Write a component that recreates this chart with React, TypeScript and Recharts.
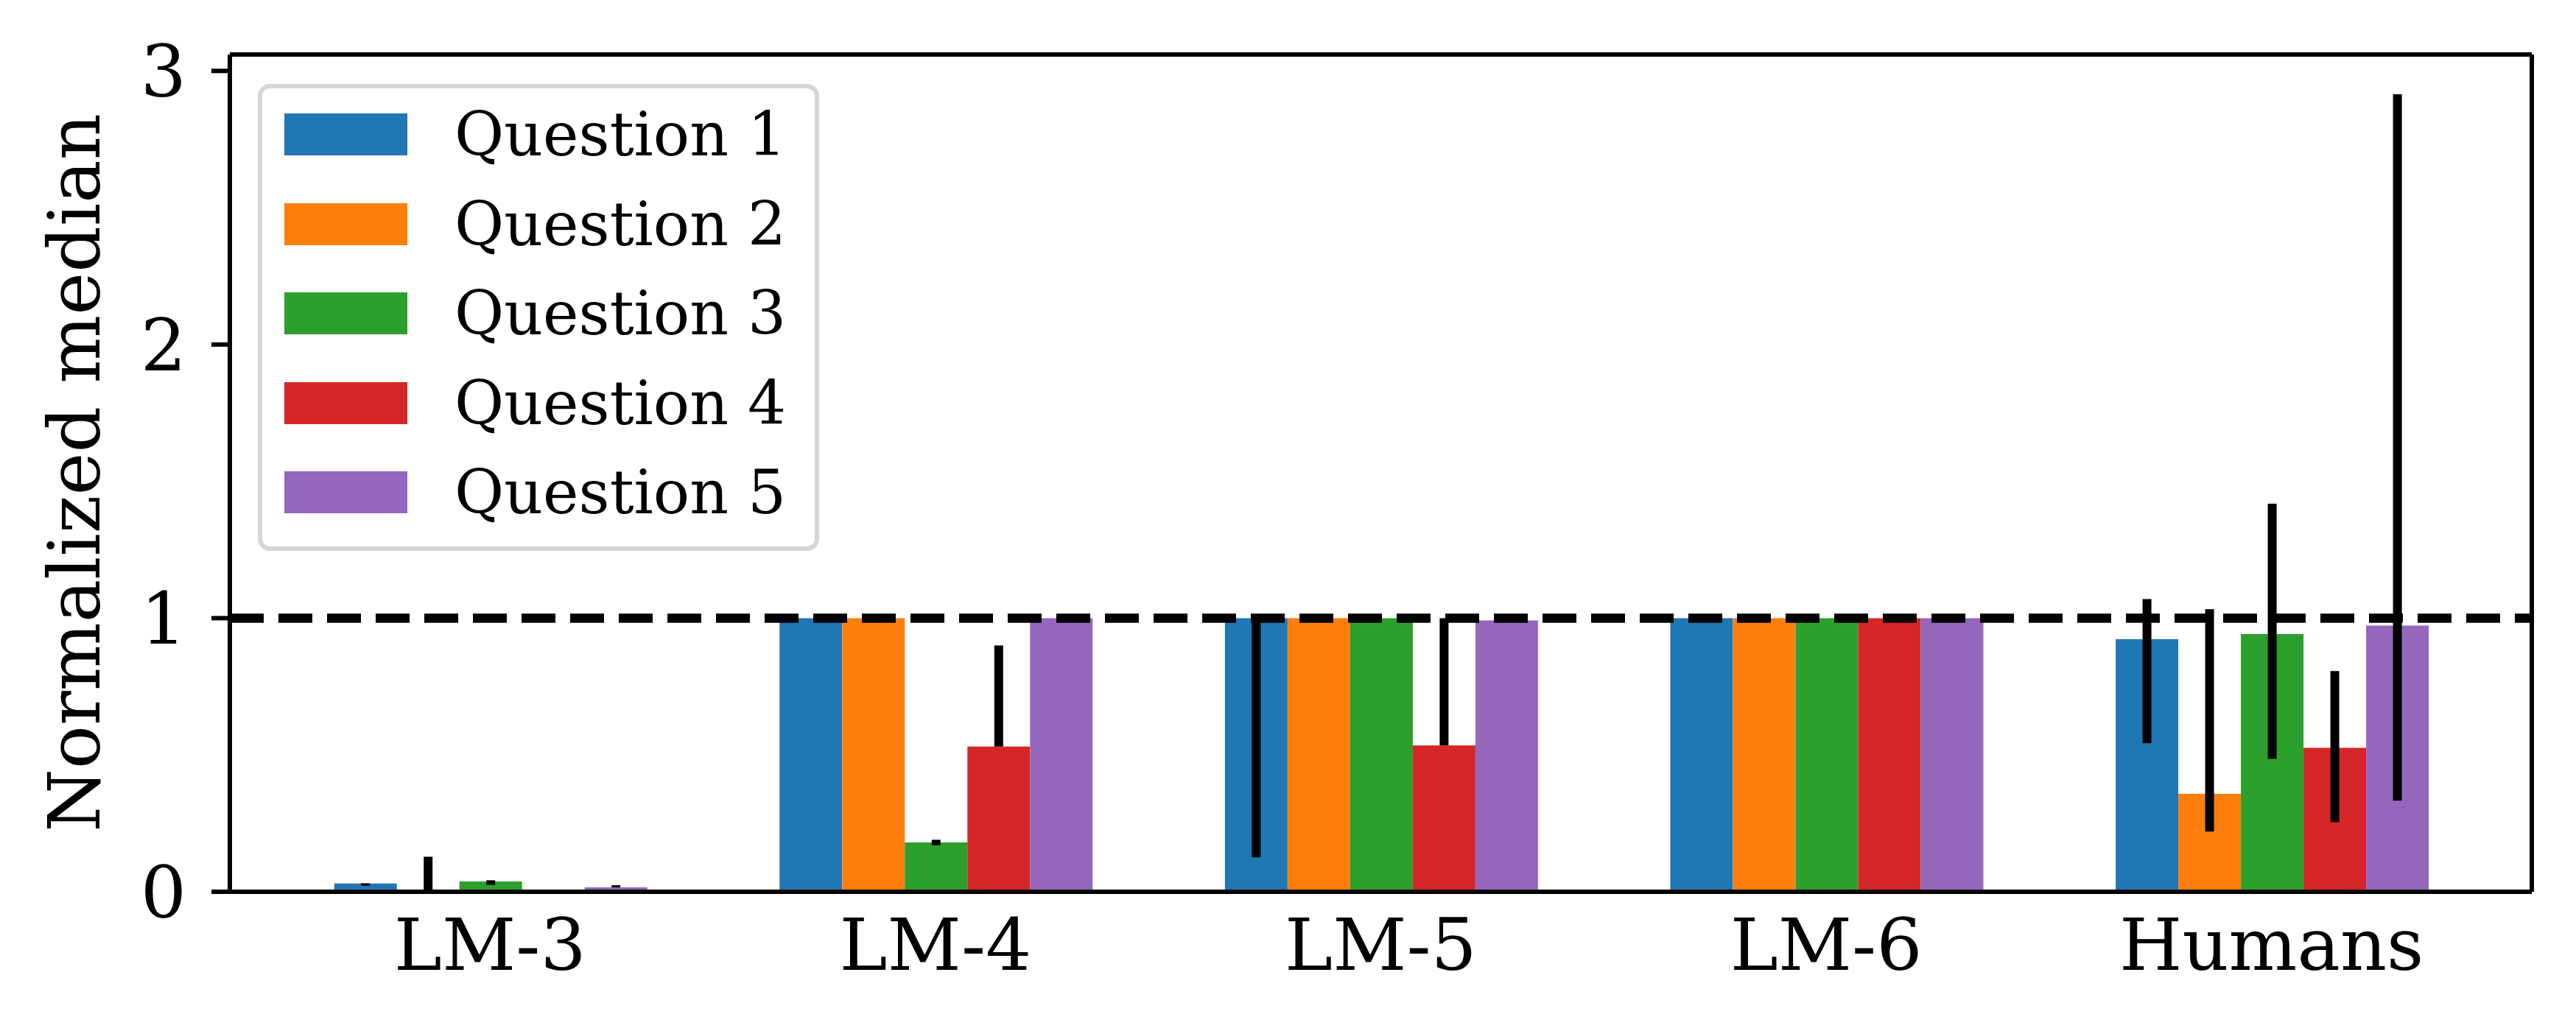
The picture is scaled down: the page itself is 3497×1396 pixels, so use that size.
import { BarChart, Bar, XAxis, YAxis, ErrorBar, ReferenceLine, Legend, Label } from "recharts";

const categories = ["LM-3", "LM-4", "LM-5", "LM-6", "Humans"];
const seriesNames = ["Question 1", "Question 2", "Question 3", "Question 4", "Question 5"];
const colors = ["#1f77b4", "#ff7f0e", "#2ca02c", "#d62728", "#9467bd"];

// medians per question, one value per category
const q1 = [0.03, 1, 1, 1, 0.923];
const q2 = [0.002, 1, 1, 1, 0.358];
const q3 = [0.038, 0.18, 1, 1, 0.942];
const q4 = [0.003, 0.531, 0.535, 1, 0.526];
const q5 = [0.016, 1, 0.992, 1, 0.973];

// lower / upper ends of the error bars
const q1Low = [0.022, 1, 0.126, 1, 0.543];
const q1High = [0.031, 1, 1, 1, 1.07];
const q2Low = [0, 1, 1, 1, 0.22];
const q2High = [0.128, 1, 1, 1, 1.033];
const q3Low = [0.025, 0.17, 1, 1, 0.486];
const q3High = [0.042, 0.19, 1, 1, 1.418];
const q4Low = [0, 0.531, 0.535, 1, 0.254];
const q4High = [0.008, 0.9, 1, 1, 0.807];
const q5Low = [0.016, 1, 0.992, 1, 0.333];
const q5High = [0.024, 1, 0.992, 1, 2.915];

const yTicks = [0, 1, 2, 3];
const Y_MAX = 3.06;

const values = [q1, q2, q3, q4, q5];
const lows = [q1Low, q2Low, q3Low, q4Low, q5Low];
const highs = [q1High, q2High, q3High, q4High, q5High];

const data = categories.map((name, i) => {
  const row: Record<string, any> = { name };
  values.forEach((v, s) => {
    row[`q${s + 1}`] = v[i];
    row[`q${s + 1}Err`] = [Math.max(0, v[i] - lows[s][i]), Math.max(0, highs[s][i] - v[i])];
  });
  return row;
});

const FONT = "'DejaVu Serif', serif";

const renderLegend = () => (
  <div
    style={{
      boxSizing: "border-box",
      width: 762,
      height: 634,
      border: "6px solid #d6d6d6",
      borderRadius: 16,
      background: "rgba(255,255,255,0.8)",
      paddingLeft: 30,
      paddingTop: 2,
      fontFamily: FONT,
      fontSize: 82,
      color: "#000",
    }}
  >
    {seriesNames.map((n, i) => (
      <div key={n} style={{ display: "flex", alignItems: "center", height: 121.5 }}>
        <div style={{ width: 167, height: 57, background: colors[i] }} />
        <span style={{ marginLeft: 64, lineHeight: "normal" }}>{n}</span>
      </div>
    ))}
  </div>
);

const renderYLabel = () => (
  <text
    x={135}
    y={642}
    transform="rotate(-90, 135, 642)"
    textAnchor="middle"
    fontFamily={FONT}
    fontSize={98}
    fill="#000"
  >
    Normalized median
  </text>
);

export default function App() {
  return (
    <div style={{ position: "absolute", left: 0, top: 0, width: 3497, height: 1396, background: "#fff" }}>
      <BarChart
        width={3497}
        height={1396}
        data={data}
        margin={{ top: 73, right: 59, bottom: 0, left: 0 }}
        barCategoryGap="15%"
        barGap={0}
      >
        <XAxis
          dataKey="name"
          height={185}
          padding={{ left: 51, right: 51 }}
          axisLine={{ stroke: "#000", strokeWidth: 6 }}
          tickLine={false}
          tickSize={0}
          tickMargin={36}
          tick={{ fontSize: 98, fontFamily: FONT, fill: "#000" }}
          interval={0}
        />
        <XAxis
          xAxisId="top"
          orientation="top"
          dataKey="name"
          height={1}
          tick={false}
          tickLine={false}
          axisLine={{ stroke: "#000", strokeWidth: 6 }}
        />
        <YAxis
          width={312}
          domain={[0, Y_MAX]}
          ticks={yTicks}
          allowDataOverflow
          axisLine={{ stroke: "#000", strokeWidth: 6 }}
          tickLine={{ stroke: "#000", strokeWidth: 6 }}
          tickSize={25}
          tickMargin={34}
          tick={{ fontSize: 98, fontFamily: FONT, fill: "#000" }}
        >
          <Label content={renderYLabel} />
        </YAxis>
        <YAxis
          yAxisId="right"
          orientation="right"
          width={1}
          domain={[0, Y_MAX]}
          tick={false}
          tickLine={false}
          axisLine={{ stroke: "#000", strokeWidth: 6 }}
        />
        <Legend
          layout="vertical"
          align="center"
          verticalAlign="middle"
          content={renderLegend}
          wrapperStyle={{ left: 350, top: 114, width: 762, height: 634 }}
        />
        {seriesNames.map((n, i) => (
          <Bar key={n} dataKey={`q${i + 1}`} name={n} fill={colors[i]} isAnimationActive={false}>
            <ErrorBar dataKey={`q${i + 1}Err`} width={0} stroke="#000" strokeWidth={12} isAnimationActive={false} />
          </Bar>
        ))}
        <ReferenceLine y={1} stroke="#000" strokeWidth={12.5} strokeDasharray="46 20" />
        <ReferenceLine y={Y_MAX} stroke="#000" strokeWidth={6} />
      </BarChart>
    </div>
  );
}
